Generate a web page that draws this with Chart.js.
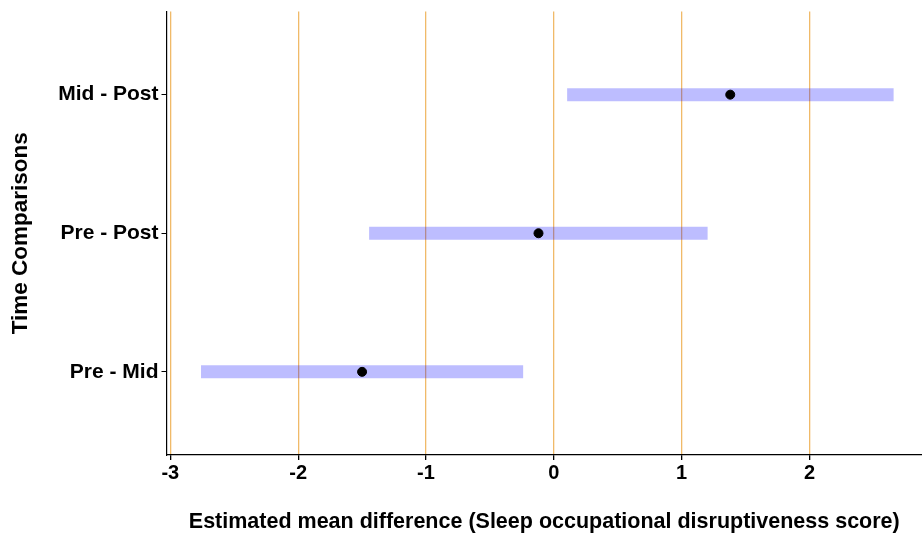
<!DOCTYPE html>
<html lang="en">
<head>
    <meta charset="UTF-8">
    <title>Time comparisons</title>
    <style>
        html, body { margin: 0; padding: 0; background: #fff; }
        .chart-container { position: relative; width: 922px; height: 535px; }
    </style>
</head>
<body>
    <div class="chart-container">
        <canvas id="forestChart"></canvas>
    </div>

    <script src="https://cdn.jsdelivr.net/npm/chart.js"></script>
    <script>
        // Data
        const comparisons = ['Pre - Mid', 'Pre - Post', 'Mid - Post'];
        const estimates = [-1.50, -0.12, 1.38];
        const lowerCI = [-2.76, -1.445, 0.104];
        const upperCI = [-0.24, 1.203, 2.658];
        const xTicks = [-3, -2, -1, 0, 1, 2];

        const fontFamily = '"Liberation Sans", Arial, Helvetica, sans-serif';
        const gridOrange = 'rgb(240, 186, 105)';
        const barBlue = 'rgba(0, 0, 255, 0.26)';

        // one line dataset per interval, drawn as a thick butt-capped segment
        const intervalSets = comparisons.map((name, i) => ({
            type: 'line',
            label: name,
            data: [{ x: lowerCI[i], y: i + 1 }, { x: upperCI[i], y: i + 1 }],
            borderColor: barBlue,
            borderWidth: 13,
            borderCapStyle: 'butt',
            pointRadius: 0,
            fill: false,
            order: 2
        }));

        // estimates go on top of the intervals
        const pointSet = {
            type: 'scatter',
            label: 'Estimate',
            data: estimates.map((v, i) => ({ x: v, y: i + 1 })),
            backgroundColor: '#000',
            borderColor: '#000',
            pointRadius: 4.5,
            order: 1
        };

        const ctx = document.getElementById('forestChart').getContext('2d');
        new Chart(ctx, {
            type: 'scatter',
            data: { datasets: [...intervalSets, pointSet] },
            options: {
                responsive: true,
                maintainAspectRatio: false,
                animation: false,
                layout: { autoPadding: false, padding: { top: 11.5, left: 0, right: 0, bottom: 0 } },
                plugins: {
                    legend: { display: false },
                    tooltip: { enabled: false }
                },
                scales: {
                    x: {
                        type: 'linear',
                        min: -3.03,
                        max: 2.88,
                        afterBuildTicks: axis => { axis.ticks = xTicks.map(v => ({ value: v })); },
                        afterFit: scale => {
                            scale.height = 80;
                            scale.paddingLeft = 0;
                            scale.paddingRight = 0;
                        },
                        border: { display: true, color: '#000', width: 1.2 },
                        grid: {
                            color: gridOrange,
                            lineWidth: 1.3,
                            tickColor: '#000',
                            tickLength: 5
                        },
                        ticks: {
                            color: '#000',
                            padding: 1,
                            font: { family: fontFamily, size: 20, weight: 'bold' },
                            callback: v => String(v)
                        },
                        title: {
                            display: true,
                            text: 'Estimated mean difference (Sleep occupational disruptiveness score)',
                            color: '#000',
                            padding: { top: 0, bottom: 0 },
                            font: { family: fontFamily, size: 21.5, weight: 'bold' }
                        }
                    },
                    y: {
                        type: 'linear',
                        min: 0.4,
                        max: 3.6,
                        afterBuildTicks: axis => { axis.ticks = [1, 2, 3].map(v => ({ value: v })); },
                        afterFit: scale => {
                            scale.width = 166.5;
                            scale.paddingTop = 0;
                            scale.paddingBottom = 0;
                        },
                        border: { display: true, color: '#000', width: 1.2 },
                        grid: {
                            drawOnChartArea: false,
                            tickColor: '#000',
                            tickLength: 5
                        },
                        ticks: {
                            color: '#000',
                            padding: 3,
                            font: { family: fontFamily, size: 21, weight: 'bold' },
                            callback: v => comparisons[v - 1] || ''
                        },
                        title: {
                            display: true,
                            text: 'Time Comparisons',
                            color: '#000',
                            padding: { top: 7, bottom: 0 },
                            font: { family: fontFamily, size: 22.5, weight: 'bold' }
                        }
                    }
                }
            }
        });
    </script>
</body>
</html>
